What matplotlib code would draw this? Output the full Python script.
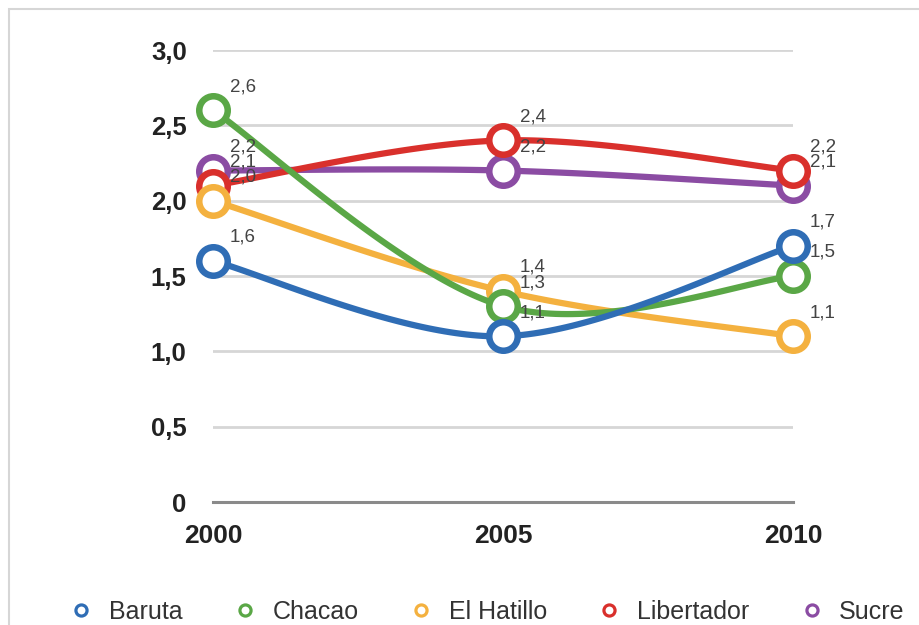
import numpy as np
import matplotlib
matplotlib.use("Agg")
import matplotlib.pyplot as plt
from matplotlib.lines import Line2D
from matplotlib.patches import Rectangle

years = [2000, 2005, 2010]
series_names = ["Baruta", "Chacao", "El Hatillo", "Libertador", "Sucre"]
baruta = [1.6, 1.1, 1.7]
chacao = [2.6, 1.3, 1.5]
el_hatillo = [2.0, 1.4, 1.1]
libertador = [2.1, 2.4, 2.2]
sucre = [2.2, 2.2, 2.1]
y_ticks = [0, 0.5, 1.0, 1.5, 2.0, 2.5, 3.0]
y_tick_labels = ["0", "0,5", "1,0", "1,5", "2,0", "2,5", "3,0"]
x_tick_labels = ["2000", "2005", "2010"]

colors = ["#2f6db5", "#5aa746", "#f4b13f", "#d9302c", "#8b4ca3"]
values = [baruta, chacao, el_hatillo, libertador, sucre]

plt.rcParams['font.family'] = ['Liberation Sans', 'DejaVu Sans']

W, H = 920, 625
fig = plt.figure(figsize=(W / 100, H / 100), dpi=100)
ax = fig.add_axes([213 / W, (H - 502) / H, (793 - 213) / W, (502 - 50) / H])

# frame border (top & left visible)
fig.patches.append(Rectangle((9 / W, -0.2), 1.2, 1.2 - 9 / H + 0.0, transform=fig.transFigure,
                             fill=False, edgecolor="#d6d6d6", linewidth=1.5, zorder=0))


def smooth(xs, ys, n=60):
    xs = np.asarray(xs, float)
    ys = np.asarray(ys, float)
    P = np.column_stack([xs, ys])
    ext = np.vstack([P[0], P, P[-1]])
    out = []
    for i in range(len(P) - 1):
        p0, p1 = ext[i + 1], ext[i + 2]
        c1 = p0 + (ext[i + 2] - ext[i]) / 6.0
        c2 = p1 - (ext[i + 3] - ext[i + 1]) / 6.0
        t = np.linspace(0, 1, n)[:, None]
        seg = ((1 - t) ** 3) * p0 + 3 * ((1 - t) ** 2) * t * c1 + 3 * (1 - t) * t ** 2 * c2 + t ** 3 * p1
        out.append(seg if i == 0 else seg[1:])
    out = np.vstack(out)
    return out[:, 0], out[:, 1]


for i, (name, vals, col) in enumerate(zip(series_names, values, colors)):
    z = 10 - i
    sx, sy = smooth(years, vals)
    ax.plot(sx, sy, color=col, lw=4.5, solid_capstyle='round', zorder=z, clip_on=False)
    ax.plot(years, vals, ls='none', marker='o', ms=20.5, mfc='white', mec=col, mew=4.7,
            zorder=z + 0.5, clip_on=False)
    for x, v in zip(years, vals):
        ax.annotate(f"{v:.1f}".replace(".", ","), (x, v), xytext=(12, 17), textcoords='offset points',
                    ha='left', va='center', fontsize=13.5, color='#444444', zorder=30)

ax.set_xlim(2000, 2010)
ax.set_ylim(0, 3.0)
ax.set_yticks(y_ticks)
ax.set_yticklabels(y_tick_labels)
ax.set_xticks(years)
ax.set_xticklabels(x_tick_labels)
ax.tick_params(axis='y', length=0, pad=19, labelsize=18.5, labelcolor='#222222')
ax.tick_params(axis='x', length=0, pad=16, labelsize=19, labelcolor='#222222')
for lab in ax.get_xticklabels() + ax.get_yticklabels():
    lab.set_fontweight('bold')
ax.grid(axis='y', color='#d6d6d6', lw=2)
ax.set_axisbelow(True)
for s in ['left', 'right', 'top']:
    ax.spines[s].set_visible(False)
ax.spines['bottom'].set_color('#8a8a8a')
ax.spines['bottom'].set_linewidth(2.2)
ax.spines['bottom'].set_zorder(1)
ax.patch.set_visible(False)

handles = [Line2D([], [], ls='none', marker='o', ms=8, mfc='white', mec=c, mew=2.3) for c in colors]
fig.legend(handles, series_names, loc='center', bbox_to_anchor=(488 / W, (H - 612) / H), ncol=5,
           frameon=False, fontsize=18, handlelength=0.8, handletextpad=0.7, columnspacing=2.1,
           labelcolor='#333333', borderpad=0)

fig.savefig("out.png", dpi=100, facecolor='white')
